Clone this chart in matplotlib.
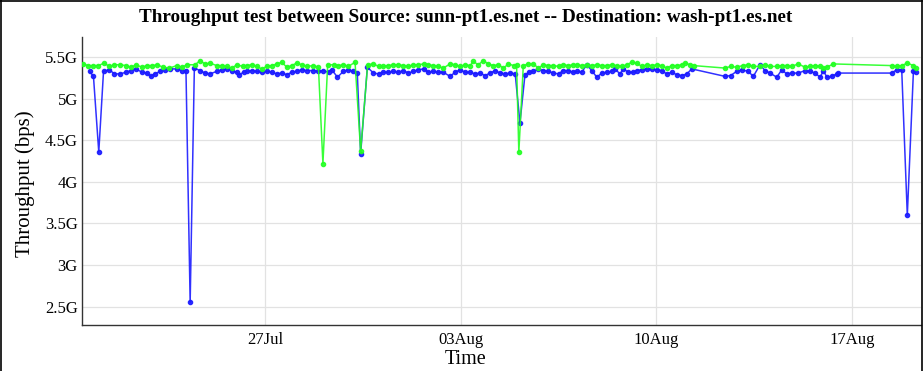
import datetime
import matplotlib
matplotlib.use("Agg")
import matplotlib.pyplot as plt
import matplotlib.dates as mdates
from matplotlib.lines import Line2D

# days since 2015-07-20 00:00, throughput in Gbps
green_t = [0.48, 0.68, 0.86, 1.04, 1.24, 1.43, 1.61, 1.81, 2.03, 2.19, 2.39, 2.59, 2.77, 2.97,
           3.15, 3.34, 3.58, 3.84, 4.02, 4.20, 4.50, 4.67, 4.85, 5.03, 5.27, 5.45, 5.63, 5.81,
           5.99, 6.20, 6.34, 6.52, 6.70, 6.88, 7.06, 7.24, 7.42, 7.60, 7.78, 7.95, 8.13, 8.31,
           8.49, 8.73, 8.91, 9.07, 9.24, 9.45, 9.62, 9.80, 9.98, 10.22, 10.42, 10.67, 10.88,
           11.06, 11.23, 11.41, 11.59, 11.77, 11.95, 12.13, 12.31, 12.49, 12.67, 12.84, 13.02,
           13.20, 13.38, 13.62, 13.80, 13.98, 14.16, 14.34, 14.45, 14.63, 14.81, 14.99, 15.17,
           15.35, 15.53, 15.71, 15.89, 16.00, 16.08, 16.24, 16.42, 16.60, 16.78, 16.96, 17.14,
           17.32, 17.50, 17.67, 17.85, 18.03, 18.15, 18.33, 18.51, 18.69, 18.87, 19.05, 19.22,
           19.40, 19.58, 19.76, 19.94, 20.12, 20.30, 20.48, 20.66, 20.83, 21.01, 21.19, 21.37,
           21.55, 21.73, 21.91, 22.03, 22.21, 22.33, 23.46, 23.66, 23.87, 24.09, 24.29, 24.47,
           24.71, 24.89, 25.07, 25.31, 25.49, 25.66, 25.84, 26.08, 26.32, 26.50, 26.68, 26.86,
           26.98, 27.10, 27.33, 29.42, 29.60, 29.78, 29.98, 30.20, 30.29]
green_v = [5.42, 5.40, 5.40, 5.40, 5.43, 5.39, 5.41, 5.41, 5.40, 5.38, 5.41, 5.38, 5.40, 5.40,
           5.41, 5.38, 5.37, 5.40, 5.38, 5.41, 5.41, 5.46, 5.42, 5.43, 5.40, 5.40, 5.39, 5.37,
           5.41, 5.39, 5.40, 5.41, 5.39, 5.36, 5.39, 5.40, 5.42, 5.44, 5.38, 5.40, 5.43, 5.41,
           5.39, 5.40, 5.38, 4.22, 5.41, 5.41, 5.40, 5.41, 5.39, 5.44, 4.37, 5.41, 5.42,
           5.39, 5.39, 5.40, 5.41, 5.41, 5.40, 5.39, 5.41, 5.41, 5.42, 5.41, 5.40,
           5.39, 5.37, 5.42, 5.41, 5.39, 5.41, 5.40, 5.45, 5.41, 5.46, 5.42, 5.40,
           5.41, 5.37, 5.42, 5.40, 5.41, 4.36, 5.40, 5.42, 5.42, 5.37, 5.41, 5.40,
           5.40, 5.39, 5.41, 5.40, 5.41, 5.41, 5.40, 5.41, 5.40, 5.41, 5.40, 5.40,
           5.41, 5.40, 5.39, 5.41, 5.44, 5.43, 5.39, 5.41, 5.40, 5.41, 5.40, 5.37,
           5.40, 5.40, 5.41, 5.43, 5.41, 5.40, 5.37, 5.39, 5.38, 5.40, 5.41, 5.39,
           5.39, 5.41, 5.39, 5.39, 5.40, 5.40, 5.39, 5.42, 5.38, 5.39, 5.40, 5.39,
           5.37, 5.38, 5.42, 5.40, 5.39, 5.40, 5.43, 5.40, 5.37]

blue_t = [0.72, 0.86, 1.05, 1.22, 1.43, 1.61, 1.81, 2.03, 2.19, 2.39, 2.59, 2.77, 2.91, 3.06,
          3.24, 3.42, 3.60, 3.84, 4.02, 4.17, 4.32, 4.47, 4.67, 4.85, 5.03, 5.27, 5.45, 5.63,
          5.81, 5.99, 6.08, 6.23, 6.34, 6.52, 6.70, 6.88, 7.06, 7.24, 7.42, 7.60, 7.78, 7.95,
          8.13, 8.31, 8.49, 8.73, 8.91, 9.09, 9.27, 9.39, 9.59, 9.80, 9.98, 10.16, 10.30,
          10.42, 10.66, 10.88, 11.06, 11.23, 11.41, 11.59, 11.77, 11.95, 12.13, 12.31, 12.49,
          12.67, 12.84, 13.02, 13.20, 13.38, 13.62, 13.80, 13.98, 14.16, 14.34, 14.51, 14.69,
          14.87, 15.05, 15.23, 15.41, 15.59, 15.77, 15.95, 16.12, 16.30, 16.45, 16.60, 16.78,
          16.96, 17.14, 17.32, 17.50, 17.67, 17.85, 18.03, 18.15, 18.33, 18.51, 18.69, 18.87,
          19.05, 19.22, 19.40, 19.52, 19.70, 19.82, 20.00, 20.18, 20.30, 20.48, 20.66, 20.83,
          21.01, 21.19, 21.37, 21.55, 21.73, 21.91, 22.09, 22.27, 23.46, 23.66, 23.87, 24.05,
          24.29, 24.47, 24.71, 24.89, 25.07, 25.31, 25.49, 25.66, 25.84, 26.08, 26.32, 26.50,
          26.68, 26.86, 26.98, 27.10, 27.27, 27.45, 27.51, 29.42, 29.60, 29.78, 29.98, 30.20,
          30.29]
blue_v = [5.33, 5.27, 4.36, 5.33, 5.35, 5.30, 5.30, 5.32, 5.34, 5.36, 5.32, 5.31, 5.27, 5.30,
          5.33, 5.35, 5.36, 5.36, 5.34, 5.34, 2.55, 5.37, 5.34, 5.31, 5.30, 5.33, 5.35, 5.36,
          5.34, 5.32, 5.29, 5.32, 5.33, 5.34, 5.33, 5.32, 5.33, 5.32, 5.30, 5.31, 5.29, 5.32,
          5.33, 5.35, 5.34, 5.34, 5.33, 5.34, 5.32, 5.35, 5.26, 5.33, 5.35, 5.33, 5.31,
          4.34, 5.38, 5.31, 5.30, 5.32, 5.32, 5.33, 5.32, 5.34, 5.31, 5.33, 5.35,
          5.36, 5.32, 5.33, 5.32, 5.32, 5.27, 5.32, 5.35, 5.32, 5.32, 5.30, 5.31,
          5.28, 5.31, 5.34, 5.31, 5.30, 5.31, 5.30, 4.71, 5.29, 5.32, 5.33, 5.36,
          5.34, 5.33, 5.31, 5.30, 5.34, 5.34, 5.32, 5.33, 5.32, 5.41, 5.34, 5.26,
          5.31, 5.32, 5.33, 5.36, 5.30, 5.36, 5.32, 5.32, 5.34, 5.35, 5.36, 5.36,
          5.35, 5.34, 5.30, 5.32, 5.29, 5.28, 5.30, 5.36, 5.27, 5.28, 5.33, 5.35,
          5.33, 5.27, 5.41, 5.34, 5.31, 5.26, 5.35, 5.30, 5.31, 5.31, 5.34, 5.33,
          5.31, 5.26, 5.34, 5.26, 5.27, 5.30, 5.31, 5.31, 5.35, 5.35, 3.60, 5.34,
          5.32]

ytick_vals = [2.5, 3.0, 3.5, 4.0, 4.5, 5.0, 5.5]
ytick_labels = ['2.5G', '3G', '3.5G', '4G', '4.5G', '5G', '5.5G']
xtick_dates = ['2015-07-27', '2015-08-03', '2015-08-10', '2015-08-17']

serif = ['Liberation Serif', 'DejaVu Serif']
start = mdates.date2num(datetime.datetime(2015, 7, 20))

fig = plt.figure(figsize=(9.24, 3.71), dpi=100)
W, H = 924, 371
ax = fig.add_axes([82 / W, 1 - 325 / H, (921 - 82) / W, (325 - 37) / H])

ax.plot([start + t for t in blue_t], blue_v, color='#1a1aff', lw=1.1,
        marker='o', ms=3.0, mec='#1a1aff', alpha=0.9, zorder=3)
ax.plot([start + t for t in green_t], green_v, color='#22ff22', lw=1.1,
        marker='o', ms=3.0, mec='#22ff22', alpha=0.9, zorder=4)

ax.set_xlim(start + 0.45, start + 30.47)
ax.set_ylim(2.278, 5.744)
ax.set_yticks(ytick_vals)
ax.set_yticklabels(ytick_labels, family=serif, fontsize=12)
ax.set_xticks([mdates.date2num(datetime.datetime.strptime(d, '%Y-%m-%d')) for d in xtick_dates])
ax.xaxis.set_major_formatter(mdates.DateFormatter('%d%b'))
for lab in ax.get_xticklabels():
    lab.set_family(serif)
    lab.set_fontsize(12)
ax.tick_params(axis='y', length=0, pad=3)
ax.tick_params(axis='x', length=0, pad=5)
ax.grid(True, color='#e2e2e2', lw=0.9)
ax.set_axisbelow(True)
for s in ['top', 'right']:
    ax.spines[s].set_visible(False)
for s in ['left', 'bottom']:
    ax.spines[s].set_color('#333333')
    ax.spines[s].set_linewidth(1.0)

fig.text(466 / W, 1 - 17 / H,
         'Throughput test between Source: sunn-pt1.es.net -- Destination: wash-pt1.es.net',
         ha='center', va='center', family=serif, weight='bold', fontsize=13.8)
fig.text(466 / W, 1 - 359 / H, 'Time', ha='center', va='center', family=serif, fontsize=14.5)
fig.text(25 / W, 1 - 184 / H, 'Throughput (bps)', ha='center', va='center', rotation=90,
         family=serif, fontsize=15)

# frame of the screenshot
fig.add_artist(Line2D([1.0 / W, 1.0 / W], [0, 1], color='black', lw=1.2))
fig.add_artist(Line2D([921.5 / W, 921.5 / W], [0, 1], color='black', lw=1.2))
fig.add_artist(Line2D([0, 921.5 / W], [1 - 0.5 / H, 1 - 0.5 / H], color='black', lw=1.2))

fig.savefig('out.png', dpi=100)
